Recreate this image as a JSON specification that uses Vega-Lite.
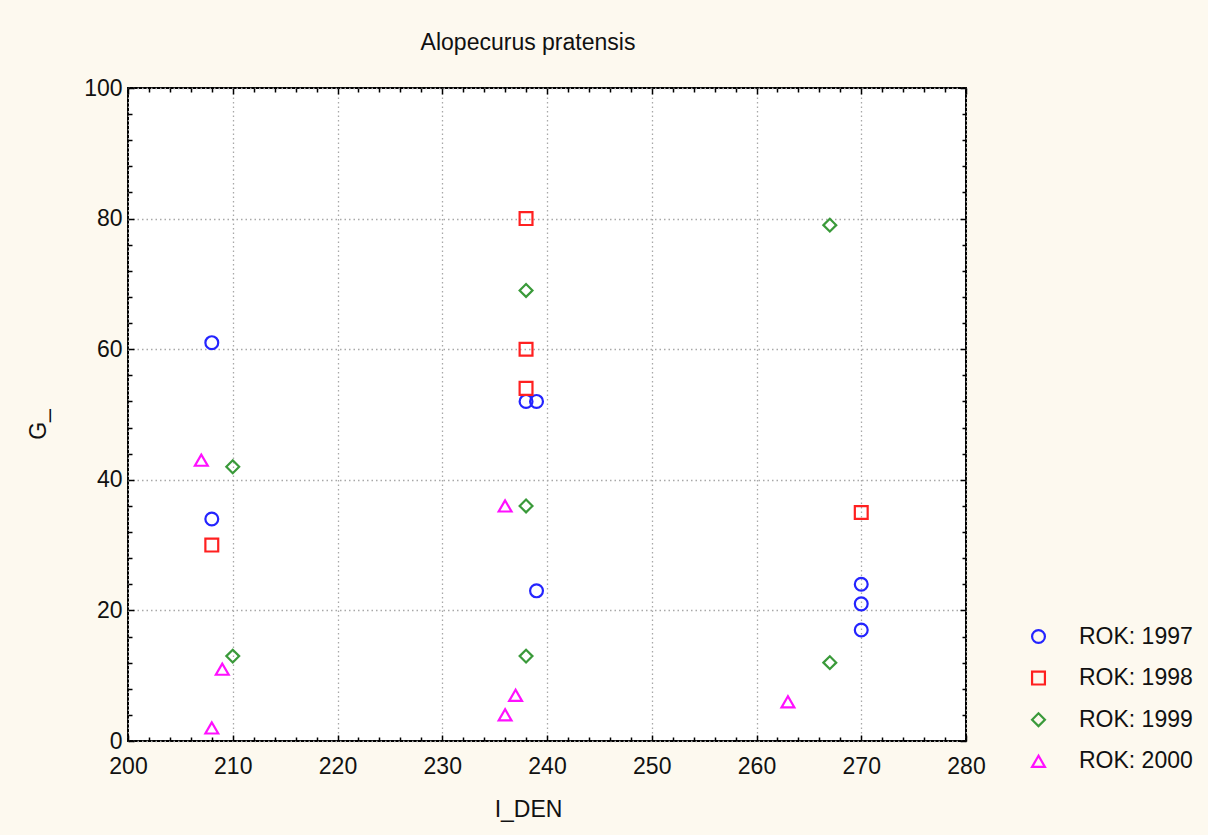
{
  "$schema": "https://vega.github.io/schema/vega-lite/v6.json",
  "autosize": "none",
  "width": 838,
  "height": 653,
  "padding": {"left": 128, "top": 88, "right": 242, "bottom": 94},
  "background": "#fdf9ef",
  "title": {
    "text": "Alopecurus pratensis",
    "anchor": "middle",
    "frame": "group",
    "dx": -19,
    "baseline": "alphabetic",
    "offset": 4,
    "font": "Liberation Sans",
    "fontSize": 23,
    "fontWeight": "normal",
    "color": "#111111"
  },
  "config": {
    "view": {"fill": "white", "stroke": "black", "strokeWidth": 2},
    "axis": {
      "domain": false,
      "labelFont": "Liberation Sans",
      "labelFontSize": 23,
      "labelColor": "#111111",
      "labelFlush": false,
      "labelOverlap": false,
      "titleFont": "Liberation Sans",
      "titleFontSize": 23,
      "titleFontWeight": "normal",
      "titleColor": "#111111",
      "tickColor": "black",
      "tickWidth": 1.5,
      "gridColor": "#a8a8a8",
      "gridDash": [1.5, 3],
      "gridWidth": 1.3
    },
    "legend": {
      "labelFont": "Liberation Sans",
      "labelFontSize": 23,
      "labelColor": "#111111"
    }
  },
  "data": {
    "values": [
      {"I_DEN": 208, "G_": 61, "ROK": 1997},
      {"I_DEN": 208, "G_": 34, "ROK": 1997},
      {"I_DEN": 238, "G_": 52, "ROK": 1997},
      {"I_DEN": 239, "G_": 52, "ROK": 1997},
      {"I_DEN": 239, "G_": 23, "ROK": 1997},
      {"I_DEN": 270, "G_": 24, "ROK": 1997},
      {"I_DEN": 270, "G_": 21, "ROK": 1997},
      {"I_DEN": 270, "G_": 17, "ROK": 1997},
      {"I_DEN": 238, "G_": 80, "ROK": 1998},
      {"I_DEN": 238, "G_": 60, "ROK": 1998},
      {"I_DEN": 238, "G_": 54, "ROK": 1998},
      {"I_DEN": 208, "G_": 30, "ROK": 1998},
      {"I_DEN": 270, "G_": 35, "ROK": 1998},
      {"I_DEN": 267, "G_": 79, "ROK": 1999},
      {"I_DEN": 238, "G_": 69, "ROK": 1999},
      {"I_DEN": 210, "G_": 42, "ROK": 1999},
      {"I_DEN": 238, "G_": 36, "ROK": 1999},
      {"I_DEN": 210, "G_": 13, "ROK": 1999},
      {"I_DEN": 238, "G_": 13, "ROK": 1999},
      {"I_DEN": 267, "G_": 12, "ROK": 1999},
      {"I_DEN": 207, "G_": 43, "ROK": 2000},
      {"I_DEN": 236, "G_": 36, "ROK": 2000},
      {"I_DEN": 209, "G_": 11, "ROK": 2000},
      {"I_DEN": 208, "G_": 2, "ROK": 2000},
      {"I_DEN": 237, "G_": 7, "ROK": 2000},
      {"I_DEN": 236, "G_": 4, "ROK": 2000},
      {"I_DEN": 263, "G_": 6, "ROK": 2000}
    ]
  },
  "layer": [
    {
      "mark": {"type": "point", "filled": false, "strokeWidth": 2.2, "size": 165, "opacity": 1},
      "encoding": {
        "x": {
          "field": "I_DEN",
          "type": "quantitative",
          "scale": {"domain": [200, 280], "nice": false, "zero": false},
          "axis": {
            "orient": "bottom",
            "values": [200,202,204,206,208,210,212,214,216,218,220,222,224,226,228,230,232,234,236,238,240,242,244,246,248,250,252,254,256,258,260,262,264,266,268,270,272,274,276,278,280],
            "labelExpr": "datum.value % 10 === 0 ? datum.label : ''",
            "tickSize": {"condition": {"test": "datum.value % 10 === 0", "value": -6}, "value": -4},
            "gridOpacity": {"condition": {"test": "datum.value % 10 === 0", "value": 1}, "value": 0},
            "labelPadding": 20,
            "titleX": 400,
            "titleY": 68,
            "titleBaseline": "middle"
          }
        },
        "y": {
          "field": "G_",
          "type": "quantitative",
          "scale": {"domain": [0, 100], "nice": false, "zero": false},
          "axis": {
            "orient": "left",
            "values": [0,4,8,12,16,20,24,28,32,36,40,44,48,52,56,60,64,68,72,76,80,84,88,92,96,100],
            "labelExpr": "datum.value % 20 === 0 ? datum.label : ''",
            "tickSize": {"condition": {"test": "datum.value % 20 === 0", "value": -6}, "value": -4},
            "gridOpacity": {"condition": {"test": "datum.value % 20 === 0", "value": 1}, "value": 0},
            "labelPadding": 12,
            "titleAngle": -90,
            "titleX": -83,
            "titleY": 336,
            "titleAlign": "center",
            "titleBaseline": "alphabetic"
          }
        },
        "color": {
          "field": "ROK",
          "type": "nominal",
          "scale": {"domain": [1997, 1998, 1999, 2000], "range": ["#2424ff", "#ff2020", "#3a9a3a", "#ff10ff"]},
          "legend": {
            "title": null,
            "orient": "none",
            "legendX": 899,
            "legendY": 537,
            "labelExpr": "'ROK: ' + datum.label",
            "symbolSize": 165,
            "symbolStrokeWidth": 2.2,
            "rowPadding": 17.6,
            "labelOffset": 29,
            "padding": 0
          }
        },
        "shape": {
          "field": "ROK",
          "type": "nominal",
          "scale": {"domain": [1997, 1998, 1999, 2000], "range": ["circle", "square", "diamond", "triangle-up"]}
        }
      }
    },
    {
      "mark": {"type": "point", "opacity": 0},
      "encoding": {
        "x": {
          "field": "I_DEN",
          "type": "quantitative",
          "axis": {
            "orient": "top",
            "title": null,
            "grid": false,
            "labels": false,
            "values": [200,202,204,206,208,210,212,214,216,218,220,222,224,226,228,230,232,234,236,238,240,242,244,246,248,250,252,254,256,258,260,262,264,266,268,270,272,274,276,278,280],
            "tickSize": {"condition": {"test": "datum.value % 10 === 0", "value": -6}, "value": -4}
          }
        },
        "y": {
          "field": "G_",
          "type": "quantitative",
          "axis": {
            "orient": "right",
            "title": null,
            "grid": false,
            "labels": false,
            "values": [0,4,8,12,16,20,24,28,32,36,40,44,48,52,56,60,64,68,72,76,80,84,88,92,96,100],
            "tickSize": {"condition": {"test": "datum.value % 20 === 0", "value": -6}, "value": -4}
          }
        }
      }
    }
  ],
  "resolve": {"axis": {"x": "independent", "y": "independent"}}
}
